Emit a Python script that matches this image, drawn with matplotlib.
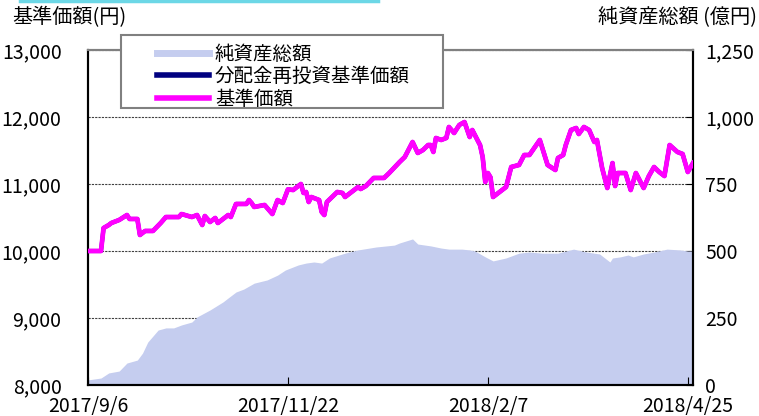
import matplotlib
matplotlib.use("Agg")
import matplotlib.pyplot as plt
from matplotlib.lines import Line2D
from matplotlib.patches import Rectangle
import pandas as pd

plt.rcParams['font.family'] = ['Noto Sans CJK JP', 'DejaVu Sans']

# ---- data ----
nav_dates = ["2017-09-06","2017-09-11","2017-09-12","2017-09-14","2017-09-15","2017-09-18","2017-09-21","2017-09-22",
             "2017-09-25","2017-09-26","2017-09-28","2017-10-01","2017-10-04","2017-10-06","2017-10-11","2017-10-12",
             "2017-10-16","2017-10-18","2017-10-20","2017-10-21","2017-10-23","2017-10-25","2017-10-26","2017-10-30",
             "2017-10-31","2017-11-02","2017-11-06","2017-11-07","2017-11-08","2017-11-09","2017-11-13","2017-11-16",
             "2017-11-18","2017-11-20","2017-11-22","2017-11-24","2017-11-27","2017-11-28","2017-11-29","2017-11-30",
             "2017-12-01","2017-12-04","2017-12-05","2017-12-06","2017-12-07","2017-12-11","2017-12-13","2017-12-14",
             "2017-12-19","2017-12-20","2017-12-22","2017-12-25","2017-12-29","2017-12-31","2018-01-04","2018-01-06",
             "2018-01-09","2018-01-11","2018-01-13","2018-01-15","2018-01-16","2018-01-17","2018-01-18","2018-01-20",
             "2018-01-22","2018-01-23","2018-01-25","2018-01-27","2018-01-29","2018-01-31","2018-02-01","2018-02-04",
             "2018-02-05","2018-02-06","2018-02-07","2018-02-08","2018-02-09","2018-02-14","2018-02-16","2018-02-19",
             "2018-02-20","2018-02-21","2018-02-23","2018-02-27","2018-03-02","2018-03-05","2018-03-06","2018-03-08",
             "2018-03-09","2018-03-11","2018-03-13","2018-03-14","2018-03-16","2018-03-18","2018-03-20","2018-03-21",
             "2018-03-23","2018-03-25","2018-03-27","2018-03-28","2018-03-29","2018-04-01","2018-04-03","2018-04-05",
             "2018-04-08","2018-04-10","2018-04-12","2018-04-14","2018-04-16","2018-04-18","2018-04-21","2018-04-23",
             "2018-04-25","2018-04-27"]
nav_values = [10000,10000,10343,10388,10418,10463,10537,10478,
              10478,10239,10299,10299,10418,10507,10507,10552,
              10507,10537,10388,10522,10433,10493,10418,10537,
              10507,10702,10702,10761,10716,10657,10687,10552,
              10761,10716,10920,10910,11000,10866,10881,10731,
              10806,10761,10582,10537,10731,10881,10866,10806,
              10955,10925,10970,11090,11090,11164,11328,11403,
              11627,11463,11507,11582,11582,11478,11687,11657,
              11687,11851,11761,11881,11925,11701,11806,11580,
              11400,11030,11164,11100,10806,10955,11254,11284,
              11358,11433,11433,11657,11284,11209,11388,11433,
              11582,11806,11836,11746,11851,11806,11627,11657,
              11239,10940,11313,10970,11164,11164,10910,11164,
              10940,11119,11254,11179,11119,11582,11478,11448,
              11179,11313]
# distribution-reinvested NAV (no distributions -> identical to NAV)
reinv_values = list(nav_values)

asset_dates = ["2017-09-06","2017-09-11","2017-09-14","2017-09-18","2017-09-21","2017-09-25","2017-09-27","2017-09-29",
               "2017-10-03","2017-10-06","2017-10-09","2017-10-12","2017-10-16","2017-10-18","2017-10-23","2017-10-28",
               "2017-10-30","2017-11-02","2017-11-05","2017-11-09","2017-11-14","2017-11-18","2017-11-21","2017-11-26",
               "2017-11-29","2017-12-02","2017-12-05","2017-12-08","2017-12-14","2017-12-19","2017-12-26","2018-01-02",
               "2018-01-04","2018-01-09","2018-01-11","2018-01-16","2018-01-20","2018-01-23","2018-01-28","2018-01-31",
               "2018-02-02","2018-02-04","2018-02-06","2018-02-09","2018-02-14","2018-02-19","2018-02-23","2018-02-28",
               "2018-03-06","2018-03-12","2018-03-17","2018-03-22","2018-03-26","2018-03-27","2018-03-30","2018-04-02",
               "2018-04-04","2018-04-08","2018-04-12","2018-04-17","2018-04-22","2018-04-25","2018-04-27"]
asset_values = [19,26,45,52,82,93,119,160,
                205,213,213,224,235,254,280,310,
                325,347,358,380,392,410,429,448,
                455,459,455,474,492,504,515,522,
                530,545,526,519,511,507,507,504,
                500,489,478,463,474,492,496,492,
                492,507,496,489,459,474,478,485,
                478,489,496,507,504,500,500]

tick_dates = ["2017-09-06", "2017-11-22", "2018-02-07", "2018-04-25"]
tick_labels = ["2017/9/6", "2017/11/22", "2018/2/7", "2018/4/25"]
left_ticks = [8000, 9000, 10000, 11000, 12000, 13000]
right_ticks = [0, 250, 500, 750, 1000, 1250]

# ---- figure ----
W, H = 759, 416
fig = plt.figure(figsize=(W/100, H/100), dpi=100)
L, R, T, B = 88, 693, 50, 385
rect = [L/W, 1-B/H, (R-L)/W, (B-T)/H]

ax2 = fig.add_axes(rect)                   # net assets (right axis), bottom layer
ax = fig.add_axes(rect, sharex=ax2)        # NAV (left axis), top layer
ax.patch.set_visible(False)

nd = pd.to_datetime(nav_dates)
ad = pd.to_datetime(asset_dates)
td = pd.to_datetime(tick_dates)

fs_tick = 14
fs_text = 14.5
ax2.fill_between(ad, asset_values, 0, color='#C5CDEF', linewidth=0, zorder=2)
ax2.set_ylim(0, 1250)
ax2.yaxis.tick_right()
ax2.set_yticks(right_ticks)
ax2.set_yticklabels([f"{v:,}" for v in right_ticks], fontsize=fs_tick)
ax2.grid(axis='y', linestyle=(0, (2, 1)), color='#404040', linewidth=0.8, zorder=1)
ax2.set_axisbelow(True)
ax2.tick_params(axis='y', direction='in', length=5, pad=9, right=True, left=False)

ax.plot(nd, reinv_values, color='#000080', linewidth=3, zorder=3)
ax.plot(nd, nav_values, color='#FF00FF', linewidth=3.4, zorder=4, solid_joinstyle='round')
ax.set_ylim(8000, 13000)
ax.set_yticks(left_ticks)
ax.set_yticklabels([f"{v:,}" for v in left_ticks], fontsize=fs_tick)
ax.tick_params(axis='y', direction='in', length=0, pad=19)
ax.set_xlim(pd.Timestamp("2017-09-06"), pd.Timestamp("2018-04-27"))
ax.set_xticks(td)
ax.set_xticklabels(tick_labels, fontsize=fs_tick)
ax.tick_params(axis='x', direction='in', length=6, pad=8)
ax2.tick_params(axis='x', bottom=False, labelbottom=False)

for a in (ax, ax2):
    for s in a.spines.values():
        s.set_linewidth(1.5)
        s.set_color('black')
    a.spines['top'].set_color('#808080')

# axis titles
fig.text(12/W, 1-18/H, "基準価額(円)", fontsize=fs_text, ha='left', va='center')
fig.text(757/W, 1-18/H, "純資産総額 (億円)", fontsize=fs_text, ha='right', va='center')

# decorative cyan rule at the top
fig.add_artist(Line2D([20/W, 378/W], [1-1/H, 1-1/H], color='#6CD7E6', linewidth=2.5))

# legend box
fig.add_artist(Rectangle((121/W, 1-108/H), 322/W, 73/H, facecolor='white',
                         edgecolor='#808080', linewidth=1.5, zorder=5))
handles = [Line2D([], [], color='#C5CDEF', linewidth=5),
           Line2D([], [], color='#000080', linewidth=4),
           Line2D([], [], color='#FF00FF', linewidth=4)]
labels = ["純資産総額", "分配金再投資基準価額", "基準価額"]
leg = fig.legend(handles, labels, loc='upper left', bbox_to_anchor=(143/W, 1-30/H),
                 frameon=False, fontsize=14, handlelength=2.7, handletextpad=0.3,
                 labelspacing=0.08, borderpad=0.2)
leg.set_zorder(6)

fig.savefig("out.png", dpi=100)
